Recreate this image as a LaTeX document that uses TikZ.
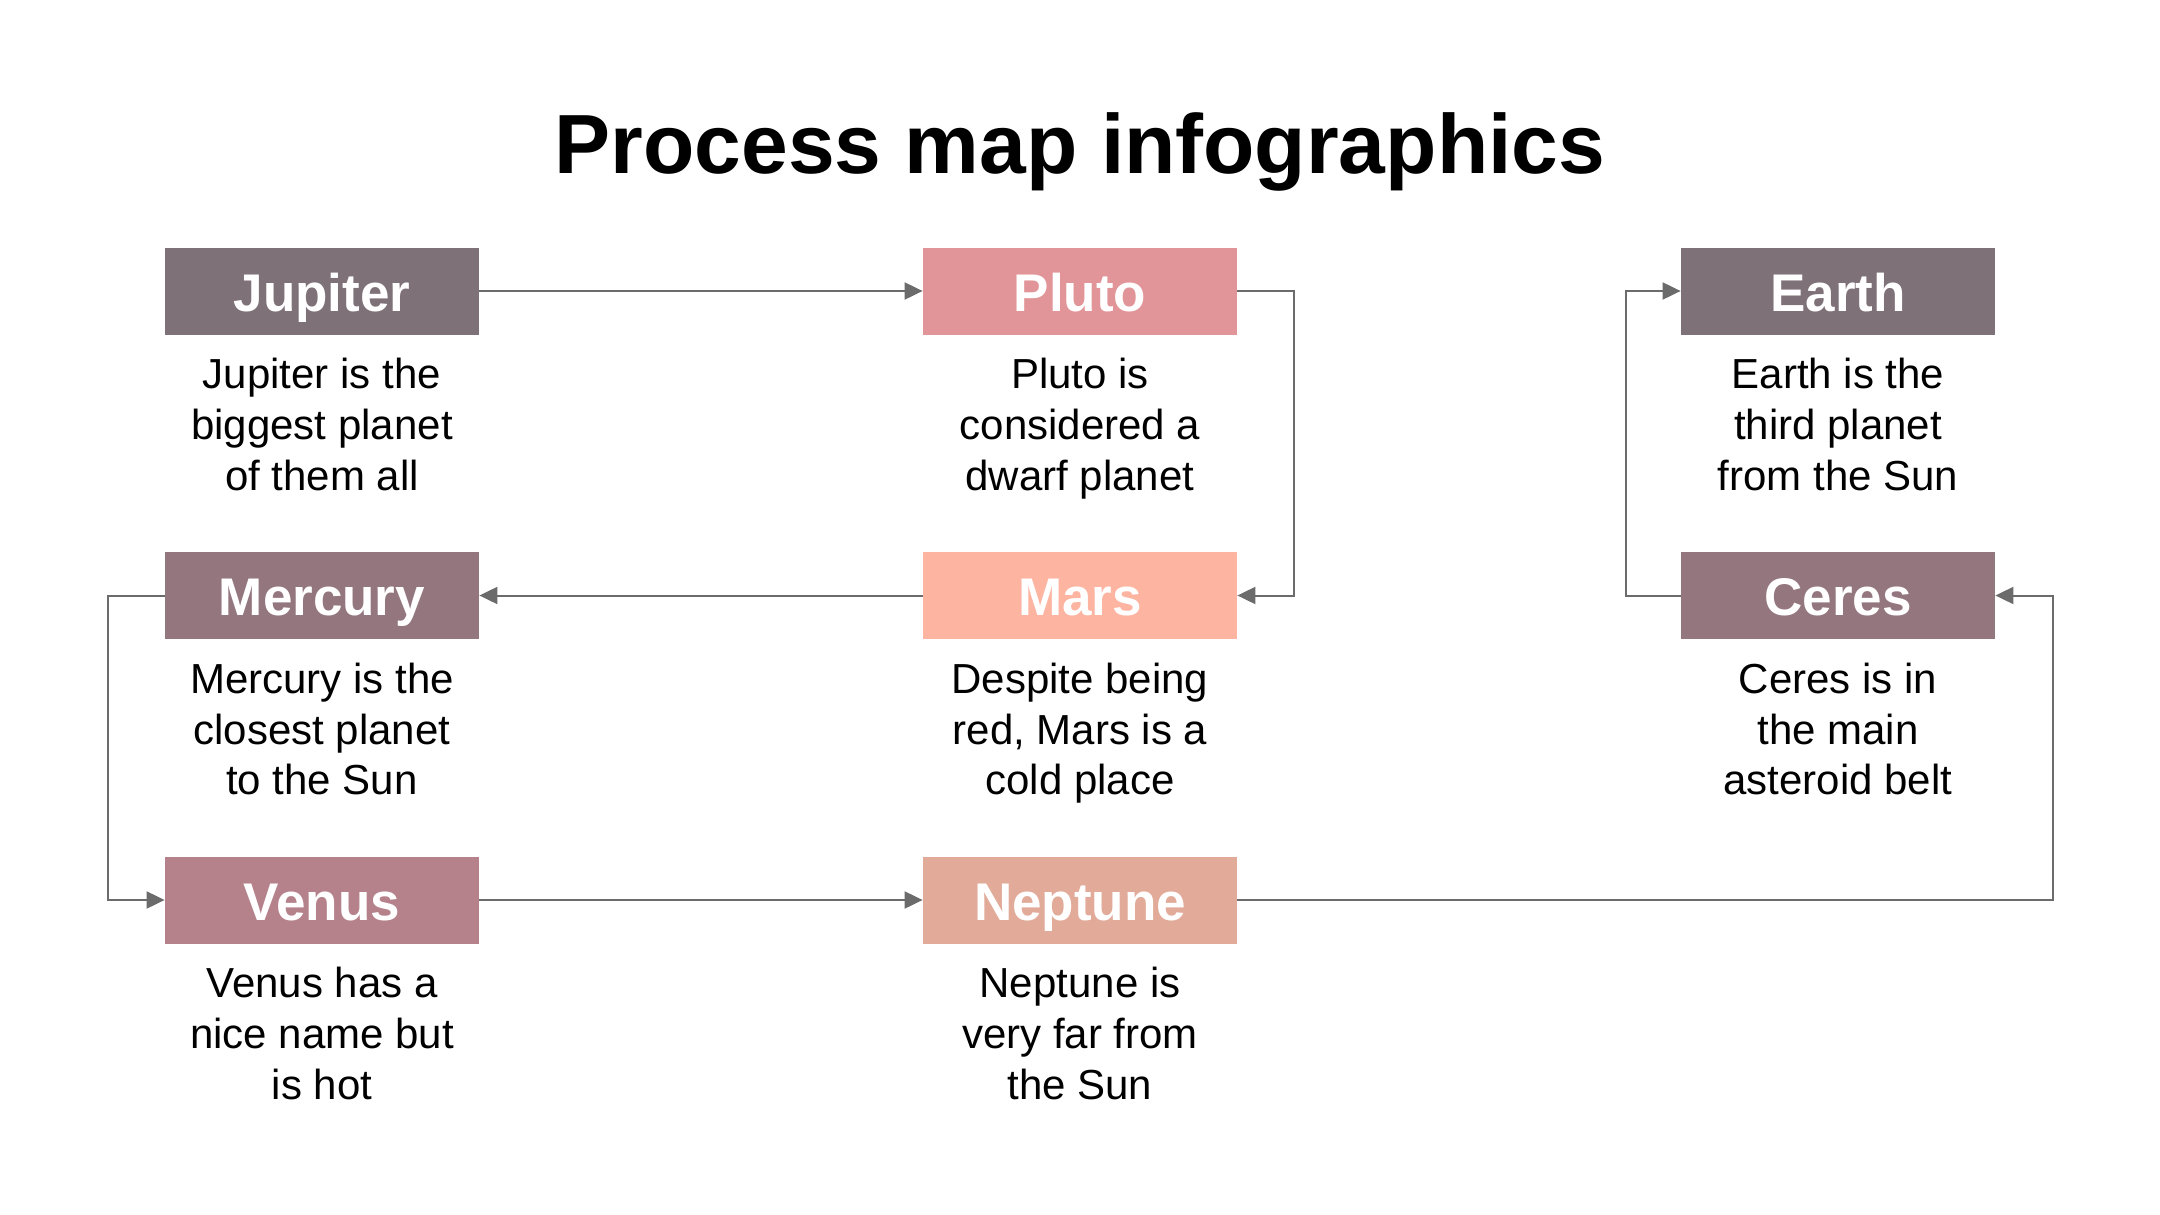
\documentclass[tikz,border=0pt]{standalone}
\usepackage{fontspec}
\setmainfont{Liberation Sans}
\usetikzlibrary{arrows.meta}
\definecolor{cJup}{HTML}{7F7178}
\definecolor{cMer}{HTML}{94767F}
\definecolor{cVen}{HTML}{B5828C}
\definecolor{cPlu}{HTML}{E29598}
\definecolor{cMar}{HTML}{FDB4A1}
\definecolor{cNep}{HTML}{E2AA98}
\definecolor{cLine}{HTML}{6B6B6B}
\tikzset{
  planet/.style={fill=#1, draw=none, minimum width=157pt, minimum height=43.5pt,
    inner sep=0pt, text=white, font=\fontsize{26.5pt}{30pt}\selectfont\bfseries,
    text height=20.2pt, text depth=0pt},
  desc/.style={anchor=north, align=center, inner sep=0pt,
    font=\fontsize{21pt}{25.4pt}\selectfont},
  conn/.style={draw=cLine, line width=1pt, -{Triangle[length=9pt,width=8.5pt]}}
}
\begin{document}
\begin{tikzpicture}[x=0.5pt,y=-0.5pt]
\useasboundingbox[fill=white] (0,0) rectangle (2160,1215);
\node[anchor=base, font=\fontsize{42pt}{48pt}\selectfont\bfseries] (title) at (1080,173) {Process map infographics};
% boxes
\node[planet=cJup] (jup) at (322,291) {Jupiter};
\node[planet=cPlu] (plu) at (1080,291) {Pluto};
\node[planet=cJup] (ear) at (1838,291) {Earth};
\node[planet=cMer] (mer) at (322,595.5) {Mercury};
\node[planet=cMar] (mar) at (1080,595.5) {Mars};
\node[planet=cMer] (cer) at (1838,595.5) {Ceres};
\node[planet=cVen] (ven) at (322,900) {Venus};
\node[planet=cNep] (nep) at (1080,900) {Neptune};
% descriptions
\node[desc] (djup) at (322,358) {Jupiter is the\\biggest planet\\of them all};
\node[desc] (dplu) at (1080,358) {Pluto is\\considered a\\dwarf planet};
\node[desc] (dear) at (1838,358) {Earth is the\\third planet\\from the Sun};
\node[desc] (dmer) at (322,662.5) {Mercury is the\\closest planet\\to the Sun};
\node[desc] (dmar) at (1080,662.5) {Despite being\\red, Mars is a\\cold place};
\node[desc] (dcer) at (1838,662.5) {Ceres is in\\the main\\asteroid belt};
\node[desc] (dven) at (322,967) {Venus has a\\nice name but\\is hot};
\node[desc] (dnep) at (1080,967) {Neptune is\\very far from\\the Sun};
% bend points
\coordinate (pr) at (1294,291);
\coordinate (ml) at (108,595.5);
\coordinate (nr) at (2053,900);
\coordinate (cl) at (1626,595.5);
% connectors
\draw[conn] (jup.east) -- (plu.west);
\draw[conn] (plu.east) -- (pr) |- (mar.east);
\draw[conn] (mar.west) -- (mer.east);
\draw[conn] (mer.west) -- (ml) |- (ven.west);
\draw[conn] (ven.east) -- (nep.west);
\draw[conn] (nep.east) -- (nr) |- (cer.east);
\draw[conn] (cer.west) -- (cl) |- (ear.west);
\end{tikzpicture}
\end{document}
